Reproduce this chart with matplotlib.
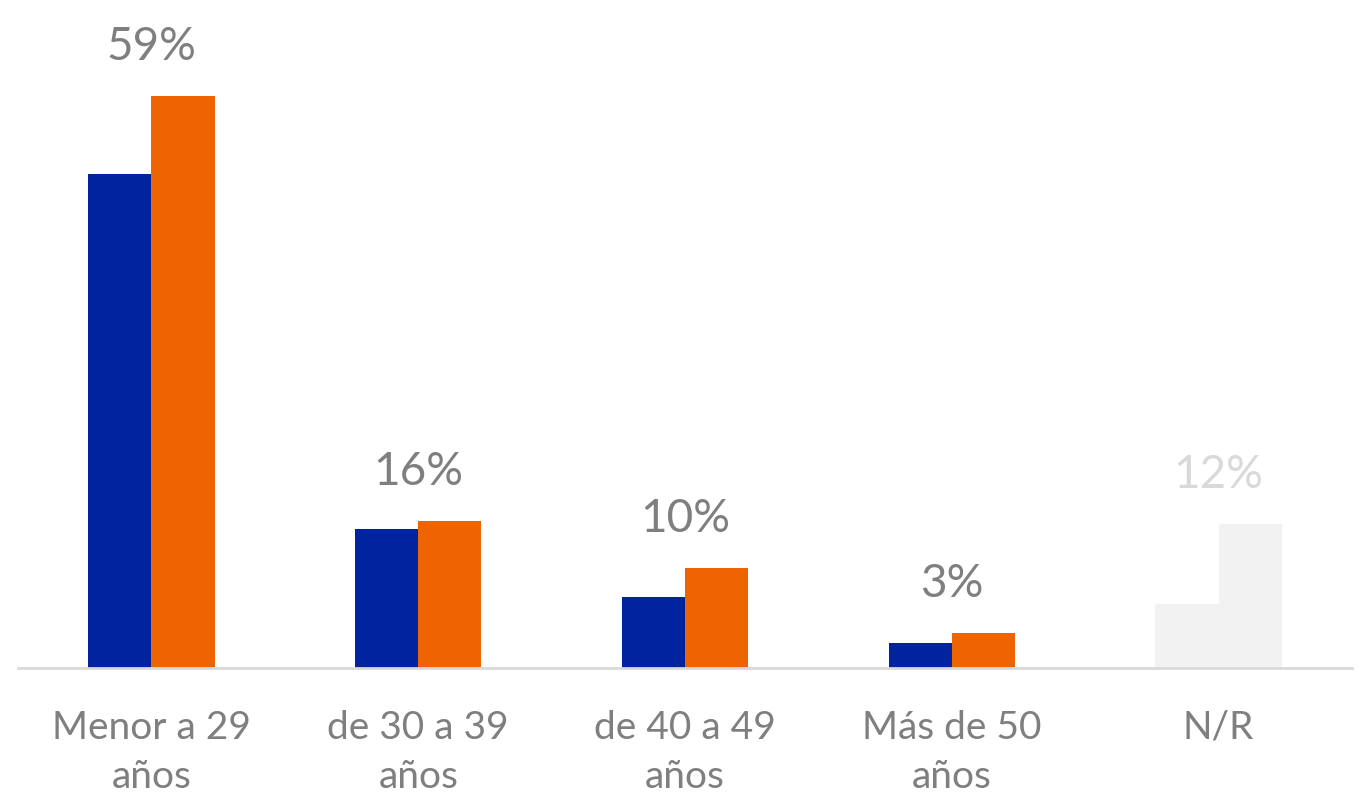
import numpy as np
import matplotlib.pyplot as plt

# Age groups and the two series (in %)
categories = ['Menor a 29\naños', 'de 30 a 39\naños', 'de 40 a 49\naños', 'Más de 50\naños', 'N/R']
blue_values = [51.0, 14.3, 7.3, 2.6, 6.6]
orange_values = [59.0, 15.2, 10.3, 3.6, 14.9]
value_labels = ['59%', '16%', '10%', '3%', '12%']

BLUE = '#0023a0'
ORANGE = '#ee6400'
NR_GRAY = '#f2f2f2'
TEXT_GRAY = '#7f7f7f'
NR_TEXT = '#d9d9d9'

plt.rcParams['font.family'] = ['Lato', 'DejaVu Sans']

fig = plt.figure(figsize=(13.58, 7.95), dpi=100)
ax = fig.add_axes([18 / 1358, 127 / 795, 1334 / 1358, 630 / 795])

x = np.arange(len(categories))
width = 0.237
blue_colors = [BLUE] * 4 + [NR_GRAY]
orange_colors = [ORANGE] * 4 + [NR_GRAY]
ax.bar(x - width / 2, blue_values, width, color=blue_colors, linewidth=0)
ax.bar(x + width / 2, orange_values, width, color=orange_colors, linewidth=0)

# Percent labels above each group
for i, (val, lab) in enumerate(zip(orange_values, value_labels)):
    col = NR_TEXT if i == 4 else TEXT_GRAY
    ax.annotate(lab, (x[i], val), xytext=(0, 20), textcoords='offset points',
                ha='center', va='bottom', fontsize=33, color=col)

ax.set_xlim(-0.5, 4.5)
ax.set_ylim(0, 65)
ax.set_xticks(x)
ax.set_xticklabels(categories, fontsize=28, color=TEXT_GRAY, linespacing=1.45)
ax.tick_params(axis='x', length=0, pad=30)
ax.set_yticks([])
for side in ['top', 'right', 'left']:
    ax.spines[side].set_visible(False)
ax.spines['bottom'].set_color('#d9d9d9')
ax.spines['bottom'].set_linewidth(2)

fig.savefig('out.png', dpi=100)
